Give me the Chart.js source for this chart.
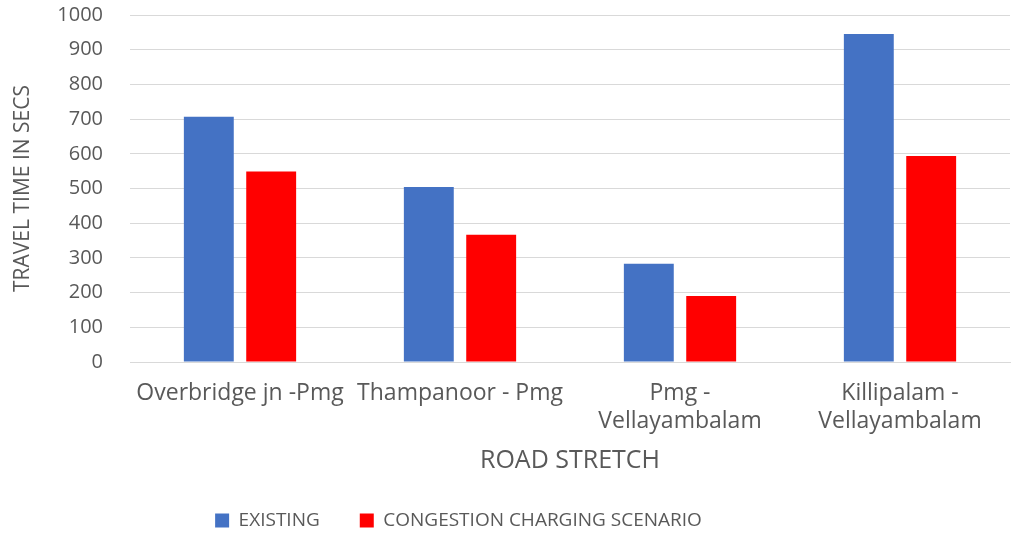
<!DOCTYPE html>
<html>
<head>
<meta charset="utf-8">
<script src="https://cdn.jsdelivr.net/npm/chart.js@4/dist/chart.umd.min.js"></script>
<style>
  html, body { margin: 0; padding: 0; background: #fff; }
  #wrap { width: 1012px; height: 534px; position: relative; }
</style>
</head>
<body>
<div id="wrap"><canvas id="myChart"></canvas></div>
<script>
// road stretches (multi-line labels as in the original)
var categories = [
  ['Overbridge jn -Pmg'],
  ['Thampanoor - Pmg'],
  ['Pmg -', 'Vellayambalam'],
  ['Killipalam -', 'Vellayambalam']
];
var existing = [707, 504, 283, 945];
var congestion = [549, 367, 190, 594];
var yTicks = [0, 100, 200, 300, 400, 500, 600, 700, 800, 900, 1000];

var textGrey = '#595959';
var gridGrey = '#d9d9d9';

// legend row sits left of centre in the original
var legendShift = {
  id: 'legendShift',
  afterLayout: function(chart) {
    if (chart.legend) {
      chart.legend.right -= 103;
    }
  }
};

var ctx = document.getElementById('myChart');
var myChart = new Chart(ctx, {
  type: 'bar',
  data: {
    labels: categories,
    datasets: [{
      label: 'EXISTING',
      data: existing,
      backgroundColor: '#4472C4',
      borderWidth: 0
    }, {
      label: 'CONGESTION CHARGING SCENARIO',
      data: congestion,
      backgroundColor: '#FF0000',
      borderWidth: 0
    }]
  },
  options: {
    responsive: true,
    maintainAspectRatio: false,
    animation: false,
    categoryPercentage: 0.567,
    barPercentage: 0.8,
    layout: {
      padding: { left: 10, right: 2, top: 15, bottom: -6 }
    },
    plugins: {
      legend: {
        position: 'bottom',
        labels: {
          color: textGrey,
          font: { family: 'Open Sans', size: 19 },
          boxWidth: 14,
          boxHeight: 14,
          padding: 40
        }
      },
      tooltip: { enabled: false }
    },
    scales: {
      x: {
        afterFit: function(scale) {
          scale.paddingLeft = 0;
          scale.paddingRight = 0;
          scale.height = 109;
        },
        grid: { display: false },
        border: { display: true, color: gridGrey, width: 1 },
        ticks: {
          color: textGrey,
          font: { family: 'Open Sans', size: 23, lineHeight: 1.2 },
          padding: 10,
          autoSkip: false,
          maxRotation: 0,
          minRotation: 0
        },
        title: {
          display: true,
          text: 'ROAD STRETCH',
          color: textGrey,
          font: { family: 'Open Sans', size: 25, lineHeight: 0.8 },
          padding: { top: 0, bottom: 0 }
        }
      },
      y: {
        min: 0,
        max: 1000,
        afterBuildTicks: function(scale) {
          scale.ticks = yTicks.map(function(v) { return { value: v }; });
        },
        afterFit: function(scale) {
          scale.paddingTop = 0;
          scale.paddingBottom = 0;
          scale.width = 120;
        },
        grid: { color: gridGrey, lineWidth: 1, drawTicks: false },
        border: { display: false },
        ticks: {
          color: textGrey,
          font: { family: 'Open Sans', size: 20 },
          padding: 27,
          callback: function(v) { return String(v); }
        },
        title: {
          display: true,
          text: 'TRAVEL TIME IN SECS',
          color: textGrey,
          font: { family: 'Open Sans', size: 21 },
          padding: { top: 0, bottom: 0 }
        }
      }
    }
  },
  plugins: [legendShift]
});
</script>
</body>
</html>
